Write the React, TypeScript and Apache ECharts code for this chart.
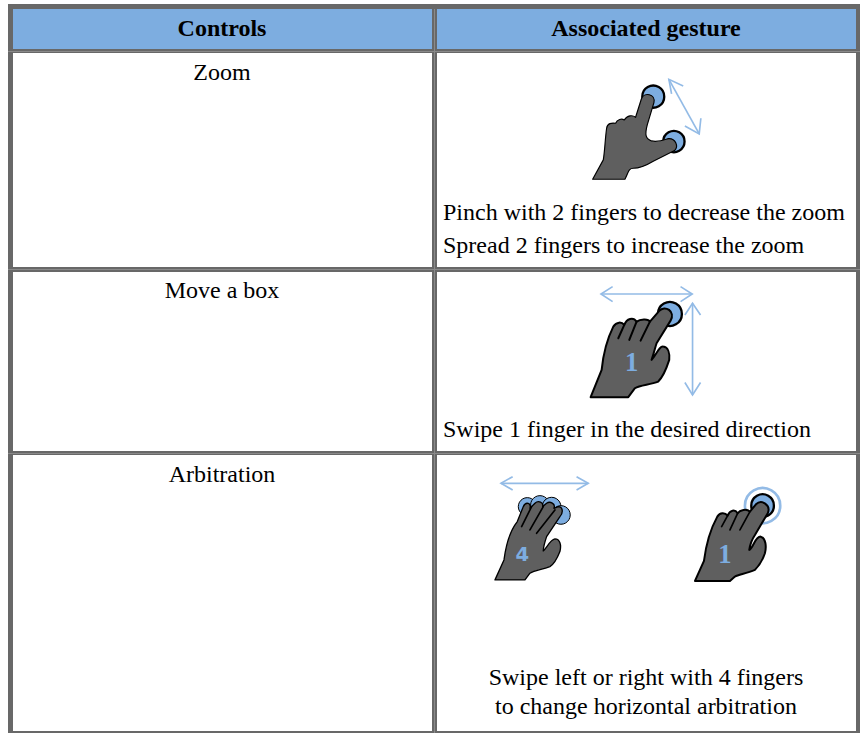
import React, { useEffect, useRef } from "react";
import * as echarts from "echarts";

const headers = ["Controls", "Associated gesture"];
const controls = ["Zoom", "Move a box", "Arbitration"];
const zoomLines = ["Pinch with 2 fingers to decrease the zoom", "Spread 2 fingers to increase the zoom"];
const moveLines = ["Swipe 1 finger in the desired direction"];
const arbitrationLines = ["Swipe left or right with 4 fingers", "to change horizontal arbitration"];

const BORDER = "#686868";
const SEAM = "#8a8a8a";
const HEAD = "#7dade0";
const BLUE = "#7dade0";
const ARROW = "#93bbe6";
const HAND = "#5f5f5f";
const FONT = '"Liberation Serif", "Times New Roman", serif';

const handPaths: Record<string, string> = {
  handPinch:
    "M68 358 L100 300 C105 270 105 240 110 205 C112 190 125 188 137 190 C142 178 155 175 163 180 C172 165 188 165 197 172 L214 118 C222 94 258 102 252 128 L232 195 C224 225 227 236 245 243 C262 248 280 241 295 236 C317 234 327 260 314 272 L250 304 C225 319 210 325 190 325 C175 325 175 340 165 358 Z",
  handMove:
    "M62 382 L95 300 C100 250 110 210 130 170 C140 155 155 155 163 165 C170 145 190 140 200 155 C210 148 235 145 240 155 L268 123 C285 103 318 125 302 152 L260 220 C255 235 255 240 245 270 C262 250 268 228 280 230 C295 232 300 250 298 270 C290 295 280 320 265 335 C240 345 210 345 195 355 L175 382 Z",
  creaseMove: "M163 165 L145 205 M200 155 L178 210 M240 155 L212 212",
  handFour:
    "M45 345 L72 285 C78 240 88 200 112 170 L130 125 C138 108 155 115 150 130 L165 115 C175 105 192 112 188 125 L200 115 C210 108 228 115 222 130 L235 125 C250 125 250 145 240 155 L200 215 C195 230 190 250 190 258 C200 250 210 225 225 222 C240 222 245 240 240 260 C230 285 220 300 210 305 C185 315 165 315 150 325 L135 345 Z",
  creaseFour: "M125 185 L155 125 M150 195 L190 125 M170 205 L225 135",
  handTap:
    "M45 318 L72 258 C78 210 90 165 112 125 C120 112 135 112 143 122 C150 105 165 102 173 115 C180 105 200 100 210 110 L228 88 C245 72 273 90 264 114 L225 180 C215 195 210 210 208 225 C220 220 225 185 242 185 C258 190 260 215 255 235 C245 265 235 275 225 285 C200 295 175 300 165 305 L150 318 Z",
  creaseTap: "M143 122 L125 155 M173 115 L150 165 M210 110 L180 165",
};

Object.entries(handPaths).forEach(([name, d]) => {
  echarts.graphic.registerShape(name, echarts.graphic.extendPath(d as any, {}) as any);
});

const rect = (x: number, y: number, w: number, h: number, fill: string) => ({
  type: "rect",
  shape: { x, y, width: w, height: h },
  style: { fill },
  silent: true,
});

const label = (text: string, x: number, y: number, align: string, bold = false) => ({
  type: "text",
  style: {
    text,
    x,
    y,
    fill: "#000",
    font: `${bold ? "bold " : ""}24px ${FONT}`,
    textAlign: align,
    textVerticalAlign: "middle",
  },
});

const hand = (name: string, lw = 5) => ({
  type: name,
  style: { fill: HAND, stroke: "#000", lineWidth: lw, lineJoin: "round" },
});
const crease = (name: string, lw = 4) => ({
  type: name,
  style: { fill: "none", stroke: "#000", lineWidth: lw, lineCap: "round" },
});
const dot = (cx: number, cy: number, r: number, lw = 5) => ({
  type: "circle",
  shape: { cx, cy, r },
  style: { fill: BLUE, stroke: "#000", lineWidth: lw },
});
const stroke = (points: number[][]) => ({
  type: "polyline",
  shape: { points },
  style: { fill: "none", stroke: ARROW, lineWidth: 5, lineJoin: "miter" },
});
const digit = (text: string, x: number, y: number, font: string) => ({
  type: "text",
  style: {
    text,
    x,
    y,
    fill: BLUE,
    font,
    textAlign: "center",
    textVerticalAlign: "middle",
  },
});
const icon = (x: number, y: number, children: any[]) => ({
  type: "group",
  x,
  y,
  scaleX: 1 / 3,
  scaleY: 1 / 3,
  children,
});

function buildGraphics() {
  const g: any[] = [];
  g.push(rect(0, 0, 863, 733, "#fff"));
  g.push(rect(13, 9, 419, 41, HEAD));
  g.push(rect(437, 9, 419, 41, HEAD));
  // table rules
  g.push(rect(8, 4, 852, 5, BORDER));
  g.push(rect(8, 49, 852, 4, BORDER));
  g.push(rect(8, 267, 852, 5, BORDER));
  g.push(rect(8, 451, 852, 4, BORDER));
  g.push(rect(8, 731, 852, 2, BORDER));
  g.push(rect(8, 4, 5, 729, BORDER));
  g.push(rect(432, 4, 5, 729, BORDER));
  g.push(rect(856, 4, 4, 729, BORDER));
  // seams
  g.push(rect(8, 51, 852, 1, SEAM));
  g.push(rect(8, 269, 852, 1, SEAM));
  g.push(rect(8, 453, 852, 1, SEAM));
  g.push(rect(434, 9, 1, 724, SEAM));

  g.push(label(headers[0], 222, 28, "center", true));
  g.push(label(headers[1], 646, 28, "center", true));
  g.push(label(controls[0], 222, 72, "center"));
  g.push(label(controls[1], 222, 290, "center"));
  g.push(label(controls[2], 222, 474, "center"));
  g.push(label(zoomLines[0], 443, 212, "left"));
  g.push(label(zoomLines[1], 443, 245, "left"));
  g.push(label(moveLines[0], 443, 429, "left"));
  g.push(label(arbitrationLines[0], 646, 677, "center"));
  g.push(label(arbitrationLines[1], 646, 706, "center"));

  const serifDigit = 'bold 80px "Liberation Serif", serif';
  const sansDigit = 'bold 59px "DejaVu Sans", sans-serif';

  g.push(
    icon(570, 60, [
      stroke([[340, 78], [297, 58], [305, 102]]),
      stroke([[297, 58], [388, 222]]),
      stroke([[393, 175], [388, 222], [345, 198]]),
      dot(250, 110, 33, 7),
      dot(312, 245, 32, 7),
      hand("handPinch", 3.5),
    ])
  );
  g.push(
    icon(570, 270, [
      stroke([[128, 50], [93, 72], [128, 95]]),
      stroke([[93, 72], [367, 72]]),
      stroke([[332, 50], [367, 72], [332, 95]]),
      stroke([[345, 135], [368, 100], [392, 135]]),
      stroke([[368, 100], [368, 375]]),
      stroke([[345, 338], [368, 375], [392, 338]]),
      dot(300, 132, 36, 7),
      hand("handMove", 6),
      crease("creaseMove", 6),
      digit("1", 185, 277, serifDigit),
    ])
  );
  g.push(
    icon(480, 465, [
      stroke([[98, 35], [63, 55], [98, 75]]),
      stroke([[63, 55], [325, 55]]),
      stroke([[290, 35], [325, 55], [290, 75]]),
      dot(142, 125, 27, 3),
      dot(180, 120, 28, 3),
      dot(215, 125, 28, 3),
      dot(243, 150, 28, 3),
      hand("handFour", 4),
      crease("creaseFour", 5),
      digit("4", 127, 268, sansDigit),
    ])
  );
  g.push(
    icon(680, 475, [
      {
        type: "circle",
        shape: { cx: 248, cy: 92, r: 53 },
        style: { fill: "#fff", stroke: ARROW, lineWidth: 8 },
      },
      dot(248, 92, 34, 7),
      hand("handTap", 6),
      crease("creaseTap", 5),
      digit("1", 135, 236, serifDigit),
    ])
  );
  return g;
}

export default function App() {
  const ref = useRef<HTMLDivElement>(null);
  useEffect(() => {
    const chart = echarts.init(ref.current!, undefined, { renderer: "svg" });
    chart.setOption({ animation: false, backgroundColor: "#fff", graphic: { elements: buildGraphics() } });
    return () => chart.dispose();
  }, []);
  return <div ref={ref} style={{ position: "absolute", left: 0, top: 0, width: 863, height: 733 }} />;
}
